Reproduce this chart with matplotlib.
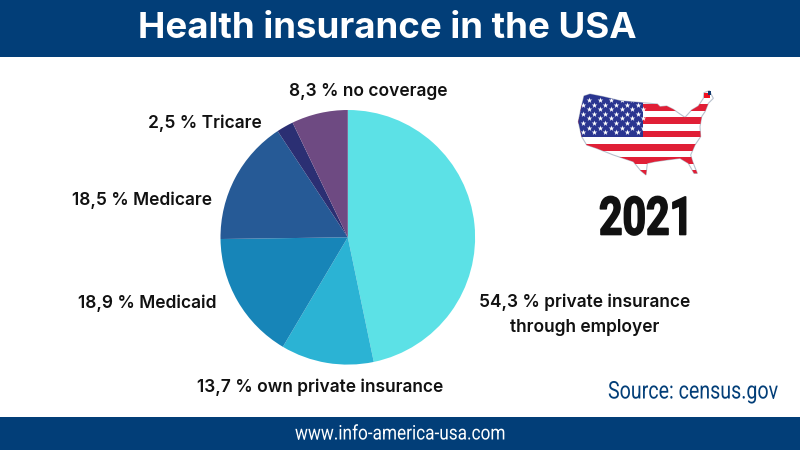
import matplotlib
matplotlib.use("Agg")
import matplotlib.pyplot as plt
from matplotlib.patches import Polygon, Rectangle
from matplotlib.patheffects import AbstractPathEffect
from matplotlib.transforms import Affine2D

categories = ["54,3 % private insurance\nthrough employer", "13,7 % own private insurance",
              "18,9 % Medicaid", "18,5 % Medicare", "2,5 % Tricare", "8,3 % no coverage"]
values = [54.3, 13.7, 18.9, 18.5, 2.5, 8.3]
colors = ["#5CE1E6", "#2BB3D4", "#1785B8", "#265A96", "#2B2F73", "#6E4A82"]
label_pos = [(585, 315), (320, 387), (147.5, 303), (142, 200), (205, 123), (368, 91)]

W, H = 800, 450
NAVY = "#023E78"
SANS = ["Inter", "DejaVu Sans"]
NARROW = ["Roboto", "DejaVu Sans"]


class Squeeze(AbstractPathEffect):
    """Narrows the glyphs of a text horizontally around a display x position."""

    def __init__(self, anchor_x, factor, stroke=0.0):
        super().__init__()
        self.anchor_x, self.factor, self.stroke = anchor_x, factor, stroke

    def draw_path(self, renderer, gc, tpath, affine, rgbFace=None):
        squeeze = (Affine2D().translate(-self.anchor_x, 0)
                   .scale(self.factor, 1).translate(self.anchor_x, 0))
        gc0 = renderer.new_gc()
        gc0.copy_properties(gc)
        if self.stroke:
            gc0.set_linewidth(self.stroke)
            gc0.set_foreground(rgbFace)
        else:
            gc0.set_linewidth(0)
        renderer.draw_path(gc0, tpath, affine + squeeze, rgbFace)
        gc0.restore()


fig = plt.figure(figsize=(8, 4.5), dpi=100, facecolor="white")
bg = fig.add_axes([0, 0, 1, 1])
bg.set_xlim(0, W); bg.set_ylim(H, 0); bg.axis("off")
renderer = fig.canvas.get_renderer()


def narrow_text(right_x, y, s, width, stroke=0.0, **kw):
    t = bg.text(right_x, y, s, family=NARROW, ha="right", va="center", **kw)
    factor = width / t.get_window_extent(renderer).width
    t.set_path_effects([Squeeze(right_x, factor, stroke)])
    return t


bg.add_patch(Rectangle((0, 0), W, 57, color=NAVY, lw=0))
bg.add_patch(Rectangle((0, 417), W, 33, color=NAVY, lw=0))
bg.text(387, 28.5, "Health insurance in the USA", color="white", fontsize=26.4,
        fontweight="bold", family=SANS, ha="center", va="center")
narrow_text(505, 434, "www.info-america-usa.com", 210, color="white", fontsize=14.5)
narrow_text(778, 392, "Source: census.gov", 170, color=NAVY, fontsize=17.5)
narrow_text(693, 220, "2021", 94, stroke=1.2, color="#111111", fontsize=38, fontweight="bold")

for text, (x, y) in zip(categories, label_pos):
    bg.text(x, y, text, color="#111111", fontsize=12.5, fontweight="semibold",
            family=SANS, ha="center", va="center", linespacing=1.65)

# flag-filled map of the USA (decoration)
outline_zoom = [(42,48),(60,42),(100,50),(150,62),(218,68),(262,72),(270,80),(290,78),(310,88),
                (330,102),(345,112),(365,90),(385,78),(400,55),(402,38),(418,32),(430,55),(415,70),
                (405,95),(395,110),(390,140),(392,170),(375,195),(362,225),(368,245),(382,280),
                (372,280),(355,250),(330,235),(290,240),(255,245),(232,250),(228,285),(212,272),
                (190,245),(160,235),(130,225),(80,205),(50,195),(35,170),(25,125),(32,90)]
outline = [(570 + a / 3, 80 + b / 3) for a, b in outline_zoom]
clip = Polygon(outline, closed=True, transform=bg.transData, fc="white",
               ec="#B8C0CC", lw=0.8, zorder=2)
bg.add_patch(clip)
shapes = []
for top in [72, 112, 152, 192, 232, 270]:
    shapes.append(bg.add_patch(Rectangle((570, 80 + top / 3), 150, 20 / 3,
                                         color="#E01F36", lw=0, zorder=3)))
shapes.append(bg.add_patch(Rectangle((570, 80), 218 / 3, 172 / 3, color="#2A3590", lw=0, zorder=4)))
for s in shapes:
    s.set_clip_path(clip)
star_x, star_y = [], []
for r, zy in enumerate([60, 74, 88, 101, 115, 129, 143, 157]):
    for c in range(6):
        zx = (40 if r % 2 else 57) + c * 32.5
        star_x.append(570 + zx / 3)
        star_y.append(80 + zy / 3)
stars = bg.scatter(star_x, star_y, marker="*", s=18, c="white", lw=0, zorder=5)
stars.set_clip_path(clip)
bg.add_patch(Rectangle((570 + 402 / 3, 80 + 38 / 3), 5.5, 5, color="#F01020", lw=0, zorder=6))
bg.add_patch(Rectangle((570 + 414 / 3, 80 + 33 / 3), 2.5, 4, color="#123A70", lw=0, zorder=7))

# pie
cx, cy, r = 347.8, 237.3, 127.3
ax = fig.add_axes([(cx - r) / W, 1 - (cy + r) / H, 2 * r / W, 2 * r / H])
ax.pie(values, colors=colors, startangle=90, counterclock=False, radius=1,
       wedgeprops={"linewidth": 0})
ax.set_xlim(-1, 1); ax.set_ylim(-1, 1)
ax.patch.set_alpha(0)

fig.savefig("out.png", dpi=100)
